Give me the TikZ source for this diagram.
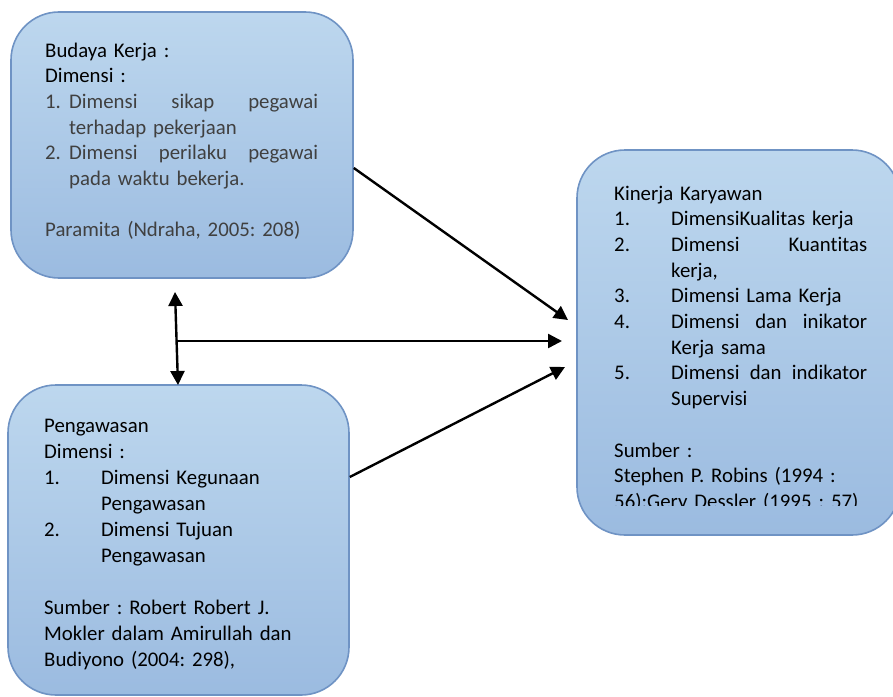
\documentclass[tikz,border=0pt]{standalone}
\usepackage{fontspec}
\setmainfont{Carlito}[Ligatures=NoCommon]
\usepackage{tikz}
\usetikzlibrary{arrows.meta,positioning,calc}
\definecolor{boxtop}{HTML}{BDD7EE}
\definecolor{boxbottom}{HTML}{9BBBE0}
\definecolor{boxline}{HTML}{6F93C4}
\definecolor{listgray}{HTML}{404040}
% number, then a line spread to the given width
\newcommand{\numline}[3]{\makebox[#1][l]{#2}\makebox[#3][l]}
\frenchspacing

\begin{document}
\begin{tikzpicture}[
  x=1pt, y=-1pt,
  every node/.style={font=\fontsize{20.8}{25.7}\selectfont},
  box/.style={draw=boxline, line width=1.6pt, rounded corners=48pt,
    top color=boxtop, bottom color=boxbottom, inner sep=0pt},
  boxtext/.style={anchor=base west, inner sep=0pt, align=left},
  link/.style={-{Triangle[length=14pt,width=14pt]}, line width=2.4pt},
  bothways/.style={{Triangle[length=14pt,width=14pt]}-{Triangle[length=14pt,width=14pt]}, line width=2.4pt},
]
\useasboundingbox (0,0) rectangle (893,696);

% Boxes
\node[box, minimum width=342pt, minimum height=266pt] (budaya) at (182,145) {};
\node[box, minimum width=341pt, minimum height=310pt] (pengawasan) at (178.5,540) {};
\node[box, minimum width=323pt, minimum height=385pt] (kinerja) at (738.5,342.5) {};

% Budaya Kerja
\node[boxtext, text width=280pt, text=listgray] (budayatxt) at (45,57) {%
  \textcolor{black}{Budaya Kerja :}\\
  \textcolor{black}{Dimensi :}\\
  \numline{24pt}{1.}{249pt}{Dimensi\hfill sikap\hfill pegawai}\\
  \hspace*{24pt}terhadap pekerjaan\\
  \numline{24pt}{2.}{249pt}{Dimensi\hfill perilaku\hfill pegawai}\\
  \hspace*{24pt}pada waktu bekerja.\\
  \mbox{}\\
  Paramita (Ndraha, 2005: 208)};

% Pengawasan
\node[boxtext, text width=280pt, font=\fontsize{20.8}{26.1}\selectfont] (pengawasantxt) at (44,432) {%
  Pengawasan\\
  Dimensi :\\
  \makebox[57pt][l]{1.}Dimensi Kegunaan\\
  \hspace*{57pt}Pengawasan\\
  \makebox[57pt][l]{2.}Dimensi Tujuan\\
  \hspace*{57pt}Pengawasan\\
  \mbox{}\\
  Sumber : Robert Robert J.\\
  Mokler dalam Amirullah dan\\
  Budiyono (2004: 298),};

% Kinerja Karyawan (last line cut off)
\begin{scope}
\clip (577,150) rectangle (893,505);
\node[boxtext, text width=260pt] (kinerjatxt) at (614,200) {%
  Kinerja Karyawan\\
  \makebox[57pt][l]{1.}DimensiKualitas kerja\\
  \numline{57pt}{2.}{196pt}{Dimensi\hfill Kuantitas}\\
  \hspace*{57pt}kerja,\\
  \makebox[57pt][l]{3.}Dimensi Lama Kerja\\
  \numline{57pt}{4.}{196pt}{Dimensi\hfill dan\hfill inikator}\\
  \hspace*{57pt}Kerja sama\\
  \numline{57pt}{5.}{196pt}{Dimensi\hfill dan\hfill indikator}\\
  \hspace*{57pt}Supervisi\\
  \mbox{}\\
  Sumber :\\
  Stephen P. Robins (1994 :\\
  56):Gery Dessler (1995 : 57)};
\end{scope}

% Arrows
\coordinate (tipupper) at (568,320);
\coordinate (tipmid) at (562,341);
\coordinate (tiplower) at (565,367);
\coordinate (linktop) at (175,292);
\coordinate (linkbottom) at (178,385);
\coordinate (linkmid) at (176.5,341);
\draw[link] ([yshift=-23pt]budaya.east) -- (tipupper);
\draw[link] (linkmid) -- (tipmid);
\draw[link] ([yshift=63pt]pengawasan.east) -- (tiplower);
\draw[bothways] (linktop) -- (linkbottom);

\end{tikzpicture}
\end{document}
